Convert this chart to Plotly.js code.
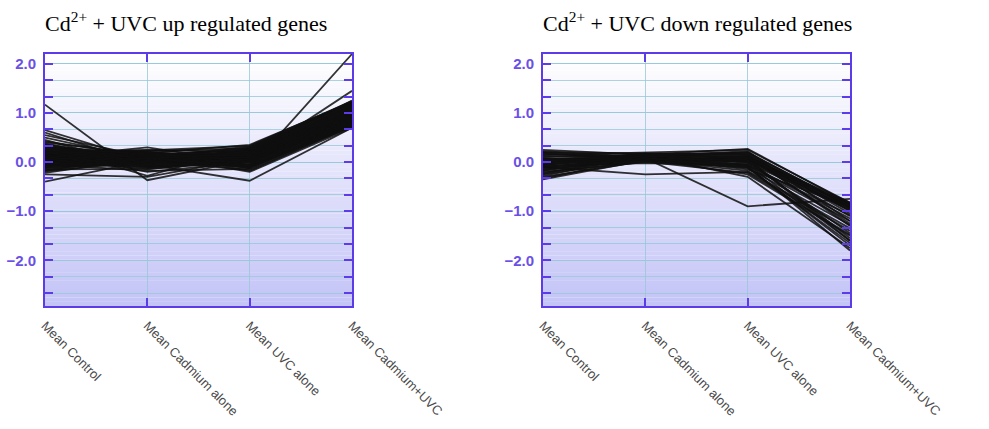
<!DOCTYPE html>
<html><head><meta charset="utf-8">
<script src="https://cdn.plot.ly/plotly-3.0.1.min.js"></script>
<style>html,body{margin:0;padding:0;background:#fff}#chart{width:989px;height:429px}</style>
</head><body><div id="chart"></div>
<script>
const categories = ["Mean Control", "Mean Cadmium alone", "Mean UVC alone", "Mean Cadmium+UVC"];
const titleUp = "Cd<sup>2+</sup> + UVC up regulated genes";
const titleDown = "Cd<sup>2+</sup> + UVC down regulated genes";
const yTickVals = [-2, -1, 0, 1, 2];

// Up regulated genes (one value per gene per condition)
const upControl = [1.17,0.65,0.60,0.55,0.50,0.45,0.40,0.38,0.35,0.33,0.30,0.30,0.28,0.27,0.25,0.25,0.24,0.22,0.21,0.20,
  0.20,0.19,0.18,0.17,0.16,0.15,0.15,0.14,0.13,0.12,0.12,0.11,0.10,0.10,0.09,0.08,0.08,0.07,0.06,0.05,
  0.05,0.04,0.03,0.02,0.02,0.01,0.00,0.00,-0.01,-0.02,-0.03,-0.04,-0.05,-0.06,-0.07,-0.08,-0.10,-0.11,-0.12,-0.14,
  -0.15,-0.17,-0.19,-0.22,-0.25,-0.40,0.10,0.18,0.22,0.05,0.32,0.36,0.42,0.29,-0.18];
const upCadmium = [-0.37,0.02,-0.05,0.10,0.05,-0.10,0.15,0.00,0.08,-0.28,0.12,0.20,0.05,0.18,-0.08,0.10,0.22,0.03,-0.02,0.14,
  0.25,0.06,-0.12,0.09,0.17,0.01,0.11,-0.04,0.07,0.20,0.13,-0.06,0.04,0.16,0.30,0.00,0.08,-0.15,0.12,0.19,
  0.02,-0.09,0.10,0.15,0.05,-0.03,0.09,0.21,-0.11,0.06,0.14,-0.18,0.03,0.11,-0.07,0.07,0.18,-0.01,0.10,0.04,
  -0.14,0.13,0.02,0.08,-0.30,0.03,-0.05,0.24,-0.20,0.16,0.06,-0.02,0.12,0.17,0.09];
const upUVC = [0.05,0.10,0.15,0.20,0.05,0.00,0.25,0.12,0.18,0.30,-0.12,0.08,0.22,0.35,-0.05,0.10,0.28,0.02,0.15,-0.10,
  0.20,0.05,0.12,0.32,0.00,-0.08,0.18,0.25,0.07,-0.18,0.14,0.03,0.22,0.10,-0.02,0.16,-0.12,0.06,0.27,0.12,
  -0.04,0.19,0.08,-0.20,0.24,0.01,0.15,-0.06,0.10,0.30,0.04,-0.14,0.20,0.09,-0.01,0.17,0.05,0.26,-0.09,0.11,
  0.02,0.21,-0.16,0.13,0.07,0.10,-0.38,0.33,0.00,0.18,-0.07,0.23,0.14,0.04,-0.11];
const upCdUVC = [0.95,0.90,1.00,1.05,0.85,0.80,1.10,0.95,1.15,1.20,2.20,1.45,1.25,1.22,0.75,0.90,1.18,0.82,1.00,0.72,
  1.12,0.88,0.97,1.23,0.86,0.78,1.08,1.14,0.92,0.74,1.02,0.84,1.16,0.96,0.80,1.06,0.76,0.90,1.20,0.99,
  0.83,1.04,0.93,0.70,1.13,0.87,1.01,0.79,0.94,1.19,0.85,0.77,1.09,0.91,0.81,1.03,0.89,1.17,0.78,0.95,
  0.84,1.11,0.73,0.98,0.88,0.92,0.70,1.24,0.82,1.07,0.79,1.13,1.02,0.87,0.76];

// Down regulated genes
const downControl = [0.25,0.22,0.20,0.18,0.15,0.12,0.10,0.08,0.06,0.05,0.03,0.02,0.00,-0.01,-0.02,-0.04,-0.05,-0.06,-0.08,-0.10,
  -0.10,-0.12,-0.14,-0.15,-0.17,-0.18,-0.20,-0.22,-0.25,-0.28,-0.30,-0.33,-0.35,-0.10,0.14,0.00,0.07,-0.06,0.19,-0.24];
const downCadmium = [0.15,0.10,0.18,0.05,0.12,0.08,0.15,0.02,0.10,0.16,0.07,0.13,0.04,0.11,0.17,0.06,0.09,0.14,-0.02,0.08,
  -0.25,0.12,0.03,0.10,0.06,0.15,0.00,0.11,0.05,0.13,0.02,0.08,0.04,0.08,0.20,0.16,0.01,0.12,0.09,0.14];
const downUVC = [0.27,0.20,0.15,0.10,0.22,0.05,0.00,0.12,-0.05,0.18,0.08,-0.10,0.02,0.14,-0.02,0.06,-0.15,0.10,-0.08,0.04,
  -0.20,0.16,-0.12,0.00,-0.25,0.08,-0.04,0.12,-0.18,-0.30,0.03,-0.07,0.05,-0.90,0.25,-0.06,-0.22,0.09,-0.12,0.19];
const downCdUVC = [-0.85,-0.90,-1.00,-0.82,-1.20,-0.95,-1.45,-0.88,-1.60,-0.92,-1.10,-1.70,-0.86,-1.30,-0.97,-1.55,-0.90,-1.25,-1.80,-0.84,
  -1.40,-1.05,-1.65,-0.93,-1.50,-0.87,-1.15,-0.99,-1.35,-1.75,-0.91,-1.20,-1.60,-0.75,-0.83,-1.08,-1.48,-0.94,-1.28,-0.89];

const AXIS = '#5b3ce8';
const GRID = 'rgba(150,200,215,0.8)';
const LINE = 'rgba(15,15,15,0.85)';

const traces = [];
function addGroup(a, b, c, d, xa, ya) {
  for (let i = 0; i < a.length; i++) {
    traces.push({
      type: 'scatter', mode: 'lines', x: categories, y: [a[i], b[i], c[i], d[i]],
      xaxis: xa, yaxis: ya, line: {color: LINE, width: 1.8}, hoverinfo: 'skip', showlegend: false
    });
  }
}
addGroup(upControl, upCadmium, upUVC, upCdUVC, 'x', 'y');
addGroup(downControl, downCadmium, downUVC, downCdUVC, 'x2', 'y2');

// gradient background built from strips
const shapes = [];
const N = 60;
for (const [xr, yr] of [['x domain', 'y domain'], ['x2 domain', 'y2 domain']]) {
  for (let k = 0; k < N; k++) {
    const t = (k + 0.5) / N; // 0 bottom -> 1 top
    const r = Math.round(196 + (255 - 196) * t);
    const g = Math.round(196 + (255 - 196) * t);
    const bl = Math.round(247 + (255 - 247) * t);
    shapes.push({type: 'rect', xref: xr, yref: yr, x0: 0, x1: 1, y0: k / N, y1: (k + 1.05) / N,
      fillcolor: `rgb(${r},${g},${bl})`, line: {width: 0}, layer: 'below'});
  }
}

function xAxis(dom, anchor) {
  return {domain: dom, anchor: anchor, type: 'category', categoryorder: 'array', categoryarray: categories,
    range: [0, 3], showline: true, linecolor: AXIS, linewidth: 2, mirror: 'ticks',
    ticks: 'inside', ticklen: 8, tickwidth: 2, tickcolor: AXIS,
    showgrid: true, gridcolor: GRID, gridwidth: 1, zeroline: false,
    tickangle: 45, tickfont: {family: 'Liberation Sans, Arial, sans-serif', size: 13, color: '#4a4a4a'},
    ticklabelstandoff: 5, fixedrange: true};
}
function yAxis(anchor) {
  return {domain: [0.2867, 0.8741], anchor: anchor, range: [-2.93, 2.2],
    tickmode: 'array', tickvals: yTickVals, tickformat: '.1f',
    showline: true, linecolor: AXIS, linewidth: 2, mirror: 'ticks',
    ticks: 'inside', ticklen: 8, tickwidth: 2, tickcolor: AXIS,
    showgrid: true, gridcolor: GRID, gridwidth: 1, zeroline: false,
    minor: {tickmode: 'linear', tick0: 0, dtick: 1 / 3, ticks: 'inside', ticklen: 8, tickwidth: 2, tickcolor: AXIS,
      showgrid: true, gridcolor: GRID, gridwidth: 1},
    tickfont: {family: 'Liberation Sans, Arial, sans-serif', size: 15, color: '#6a50e6', weight: 'bold'},
    ticklabelstandoff: 4, fixedrange: true};
}

const layout = {
  width: 989, height: 429, margin: {l: 0, r: 0, t: 0, b: 0},
  paper_bgcolor: '#ffffff', plot_bgcolor: 'rgba(0,0,0,0)', showlegend: false, hovermode: false,
  xaxis: xAxis([45 / 989, 352 / 989], 'y'),
  yaxis: yAxis('x'),
  xaxis2: xAxis([543 / 989, 850 / 989], 'y2'),
  yaxis2: yAxis('x2'),
  shapes: shapes,
  annotations: [
    {text: titleUp, xref: 'paper', yref: 'paper', x: 43 / 989, y: 1 - 6 / 429, xanchor: 'left', yanchor: 'top',
      showarrow: false, font: {family: 'Liberation Serif, Times New Roman, serif', size: 22, color: '#000'}},
    {text: titleDown, xref: 'paper', yref: 'paper', x: 541 / 989, y: 1 - 6 / 429, xanchor: 'left', yanchor: 'top',
      showarrow: false, font: {family: 'Liberation Serif, Times New Roman, serif', size: 22, color: '#000'}}
  ]
};

Plotly.newPlot('chart', traces, layout, {staticPlot: true, displayModeBar: false});
</script>
</body></html>
